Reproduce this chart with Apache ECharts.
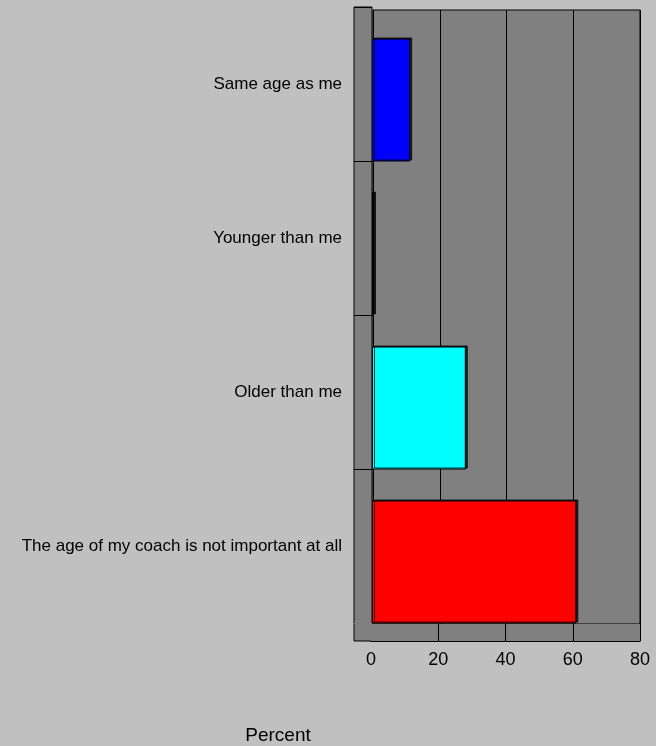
<!DOCTYPE html>
<html>
<head>
<meta charset="utf-8">
<title>Coach age</title>
<script src="https://cdn.jsdelivr.net/npm/echarts@6/dist/echarts.min.js"></script>
<style>
	html, body { margin: 0; padding: 0; background: #c0c0c0; }
	#chart { width: 656px; height: 746px; }
</style>
</head>
<body>
<div id="chart"></div>
<script>
// data
const categories = ["Same age as me", "Younger than me", "Older than me", "The age of my coach is not important at all"];
const percents = [11.4, 0.6, 28.0, 61.0];
const barColors = ["#0000ff", "#006000", "#00ffff", "#ff0000"];
const xTicks = [0, 80, 20]; // min, max, interval
const axisTitle = "Percent";

const font = "'Liberation Sans', Arial, sans-serif";
const wall = "#808080";

let chart = echarts.init(document.getElementById("chart"));

let option = {
	backgroundColor: "#c0c0c0",
	animation: false,
	title: {
		text: axisTitle,
		left: 278, top: 726, padding: 0,
		textAlign: "center",
		textStyle: { fontFamily: font, fontSize: 19, fontWeight: "normal", color: "#000" }
	},
	grid: [
		// side wall
		{ left: 354, top: 7, width: 18, height: 634, show: true, backgroundColor: wall, borderColor: "#000", borderWidth: 1 },
		// side wall bands + category labels
		{ left: 354, top: 7, width: 18, height: 616 },
		// back wall
		{ left: 373, top: 10, width: 267, height: 614, show: true, backgroundColor: wall, borderColor: "#000", borderWidth: 1 },
		// floor with ticks
		{ left: 371, top: 624, width: 269, height: 17, show: true, backgroundColor: wall, borderWidth: 0 },
		// bars (pushed forward)
		{ left: 372, top: 23, width: 268, height: 616 }
	],
	xAxis: [
		{ gridIndex: 0, type: "value", show: false },
		{ gridIndex: 1, type: "value", show: false },
		{
			gridIndex: 2, type: "value", min: xTicks[0], max: xTicks[1], interval: xTicks[2],
			axisLine: { show: false }, axisTick: { show: false }, axisLabel: { show: false },
			splitLine: { show: true, lineStyle: { color: "#000", width: 1 } }
		},
		{
			gridIndex: 3, type: "value", min: xTicks[0], max: xTicks[1], interval: xTicks[2],
			axisLine: { show: true, lineStyle: { color: "#000", width: 1 } },
			axisTick: { show: false },
			axisLabel: { margin: 10, color: "#000", fontFamily: font, fontSize: 18 },
			splitLine: { show: true, lineStyle: { color: [wall, "#000", "#000", "#000", "#000"], width: 1 } }
		},
		{ gridIndex: 4, type: "value", min: xTicks[0], max: xTicks[1], show: false }
	],
	yAxis: [
		{ gridIndex: 0, type: "category", data: categories, show: false },
		{
			gridIndex: 1, type: "category", data: categories, inverse: true,
			axisLine: { show: false }, axisTick: { show: false },
			axisLabel: { margin: 12, color: "#000", fontFamily: font, fontSize: 17 },
			splitLine: { show: true, lineStyle: { color: ["#000", "#000", "#000", "#000", wall], width: 1 } }
		},
		{ gridIndex: 2, type: "category", data: categories, show: false },
		{ gridIndex: 3, type: "category", data: [""], show: false },
		{ gridIndex: 4, type: "category", data: categories, inverse: true, show: false }
	],
	series: [{
		type: "bar",
		xAxisIndex: 4,
		yAxisIndex: 4,
		barWidth: 123,
		data: percents.map((v, i) => ({
			value: v,
			itemStyle: {
				color: barColors[i],
				borderColor: "#000",
				borderWidth: 1,
				shadowColor: "rgba(0,0,0,0.75)",
				shadowOffsetX: 2,
				shadowOffsetY: -1,
				shadowBlur: 0
			}
		}))
	}]
};

chart.setOption(option);
</script>
</body>
</html>
